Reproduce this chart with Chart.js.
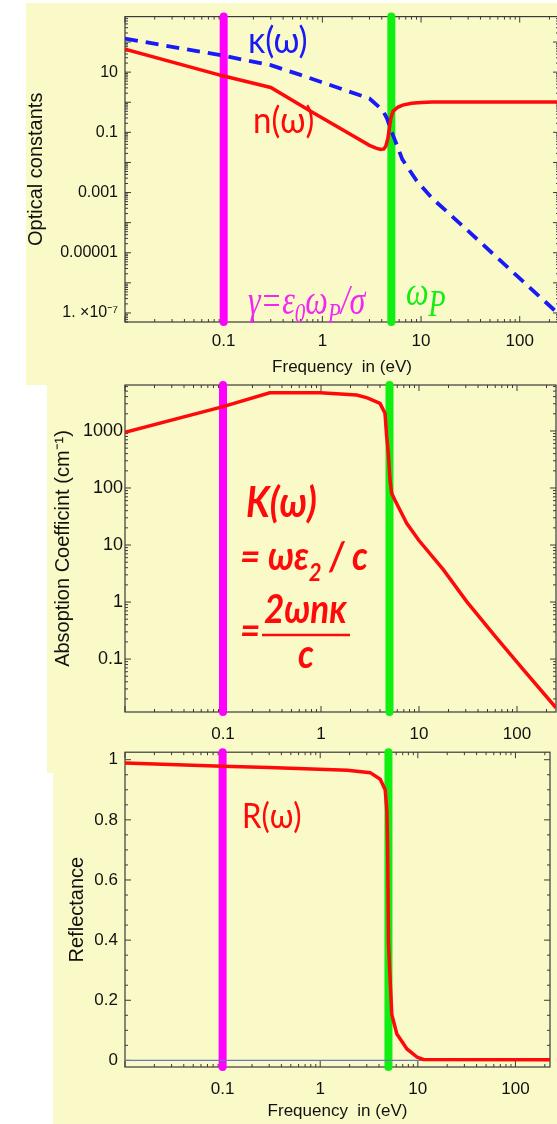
<!DOCTYPE html>
<html>
<head>
<meta charset="utf-8">
<script src="https://cdn.jsdelivr.net/npm/chart.js@4.4.1/dist/chart.umd.min.js"></script>
<style>
  html, body { margin: 0; padding: 0; background: #fff; }
  body { width: 557px; height: 1124px; overflow: hidden; position: relative; }
  .bg { position: absolute; background: #fafac8; }
  canvas { position: absolute; left: 0; }
</style>
</head>
<body>
<div class="bg" style="left:26px;top:3px;width:531px;height:382px"></div>
<div class="bg" style="left:47px;top:385px;width:510px;height:388px"></div>
<div class="bg" style="left:53px;top:773px;width:504px;height:351px"></div>
<canvas id="optical" width="570" height="382" style="top:0"></canvas>
<canvas id="absorb" width="570" height="390" style="top:370px"></canvas>
<canvas id="reflect" width="570" height="389" style="top:735px"></canvas>
<script>
// refractive index n(w)
const nFreq = [0.01, 0.1, 0.3, 0.8, 2, 3, 3.5, 3.9, 4.2, 4.4, 4.6, 4.8, 4.95, 5.2, 5.8, 6.5, 8, 10, 13, 250];
const nVal  = [58, 7.4, 3.1, 0.46, 0.08, 0.037, 0.03, 0.027, 0.028, 0.035, 0.06, 0.15, 0.3, 0.5, 0.68, 0.8, 0.92, 0.98, 1.02, 1.02];

// extinction coefficient kappa(w)
const kappaFreq = [0.01, 0.1, 0.3, 0.63, 1.37, 3, 4.06, 4.5, 4.95, 5.5, 6.46, 9, 13, 30, 100, 250];
const kappaVal  = [130, 35, 17, 7.7, 3.2, 1.33, 0.55, 0.3, 0.12, 0.05, 0.0126, 0.0025, 6.4e-4, 5.3e-5, 1.4e-6, 9e-8];

// absorption coefficient K(w)
const absFreq = [0.01, 0.1, 0.3, 0.98, 2.31, 2.97, 4.0, 4.5, 4.68, 4.86, 5.06, 5.26, 5.69, 7.49, 10, 17.7, 30.7, 60, 116, 250];
const absVal  = [950, 2670, 4690, 4690, 4270, 3800, 3050, 2040, 795, 407, 138, 81, 61, 24, 12, 3.7, 1.02, 0.25, 0.065, 0.014];

// reflectance R(w)
const reflFreq = [0.01, 0.1, 0.3, 1.9, 3.25, 4.12, 4.63, 4.82, 4.9, 5.01, 5.12, 5.41, 6.1, 7.74, 9.8, 11.4, 250];
const reflVal  = [0.989, 0.978, 0.974, 0.965, 0.957, 0.935, 0.90, 0.83, 0.72, 0.39, 0.317, 0.153, 0.0875, 0.038, 0.011, 0.003, 0.002];

// marker frequencies (eV)
const gammaFreq = 0.1;
const plasmaFreq = 5;

// tick labels
const freqTicks = [0.1, 1, 10, 100];
const opticalTicks = [10, 0.1, 0.001, 0.00001, 1e-7];
const opticalTickText = ['10', '0.1', '0.001', '0.00001', '1. \u00d710\u207b\u2077'];
const absTicks = [1000, 100, 10, 1, 0.1];
const reflTicks = [0, 0.2, 0.4, 0.6, 0.8, 1];

const RED = '#ff0a0a', BLUE = '#1a1af5', MAGENTA = '#ff00ff', GREEN = '#11ee11';
const SANS = '"Liberation Sans", Arial, sans-serif';

function pts(xs, ys) {
    return xs.map((x, i) => ({x: x, y: ys[i]}));
}

function labelFor(v, vals, texts, log) {
    const i = vals.findIndex(t => log ? Math.abs(Math.log10(v) - Math.log10(t)) < 1e-6 : Math.abs(v - t) < 1e-9);
    return i < 0 ? '' : texts[i];
}

// tick positions for the inward tick marks
function tickMarks(scale, step, major) {
    const out = [];
    if (scale.type === 'logarithmic') {
        for (let e = Math.floor(Math.log10(scale.min)); e <= Math.ceil(Math.log10(scale.max)); e++) {
            for (let m = 1; m <= 9; m++) {
                const v = m * Math.pow(10, e);
                if (v >= scale.min && v <= scale.max) out.push({v: v, major: m === 1});
            }
        }
    } else {
        for (let v = Math.ceil(scale.min / step) * step; v <= scale.max + 1e-9; v += step) {
            const r = v / major;
            out.push({v: v, major: Math.abs(r - Math.round(r)) < 1e-6});
        }
    }
    return out;
}

// frame with ticks pointing into the plot on all four sides
const framePlugin = {
    id: 'frame',
    beforeDatasetsDraw(chart, args, opts) {
        const {ctx, chartArea: a, scales} = chart;
        ctx.save();
        ctx.strokeStyle = '#3a3a3a';
        ctx.lineWidth = 1.2;
        ctx.strokeRect(a.left, a.top, a.right - a.left, a.bottom - a.top);
        ctx.beginPath();
        tickMarks(scales.x).forEach(t => {
            const p = scales.x.getPixelForValue(t.v);
            const len = t.major ? 6 : 3;
            ctx.moveTo(p, a.bottom); ctx.lineTo(p, a.bottom - len);
            ctx.moveTo(p, a.top); ctx.lineTo(p, a.top + len);
        });
        tickMarks(scales.y, opts.yStep, opts.yMajor).forEach(t => {
            const p = scales.y.getPixelForValue(t.v);
            const len = t.major ? 6 : 3;
            ctx.moveTo(a.left, p); ctx.lineTo(a.left + len, p);
            ctx.moveTo(a.right, p); ctx.lineTo(a.right - len, p);
        });
        ctx.lineWidth = 1;
        ctx.stroke();
        ctx.restore();
    }
};

function txt(ctx, s, x, y, font, color, sy) {
    ctx.save();
    ctx.font = font;
    ctx.fillStyle = color;
    ctx.textBaseline = 'alphabetic';
    ctx.translate(x, y);
    ctx.scale(1, sy || 1);
    ctx.fillText(s, 0, 0);
    const w = ctx.measureText(s).width;
    ctx.restore();
    return x + w;
}

function freqAxis(max, pad, height, withTitle, titlePad) {
    return {
        type: 'logarithmic', min: 0.01, max: max,
        grid: {display: false, drawTicks: false},
        border: {display: false},
        ticks: {
            autoSkip: false, maxRotation: 0, padding: pad, color: '#111',
            font: {family: SANS, size: 17},
            callback: v => labelFor(v, freqTicks, freqTicks.map(String), true)
        },
        title: {
            display: withTitle, text: 'Frequency  in (eV)', color: '#111',
            font: {family: SANS, size: 17}, padding: {top: 0, bottom: titlePad || 0}
        },
        afterFit: s => { s.height = height; }
    };
}

function valueAxis(type, min, max, vals, texts, font, pad, title, titleX, step) {
    return {
        type: type, min: min, max: max,
        grid: {display: false, drawTicks: false},
        border: {display: false},
        ticks: {
            autoSkip: false, includeBounds: false, padding: pad, color: '#111', font: font, stepSize: step,
            callback: v => labelFor(v, vals, texts, type === 'logarithmic')
        },
        title: {
            display: true, text: title, color: '#111',
            font: {family: SANS, size: 20}, padding: {top: titleX - 12, bottom: 0}
        },
        afterFit: s => { s.width = 125; }
    };
}

function marker(f, color, lo, hi) {
    return {
        data: [{x: f, y: lo}, {x: f, y: hi}],
        borderColor: color, borderWidth: 8, borderCapStyle: 'round', clip: 6, pointRadius: 0
    };
}

function baseOptions(padding, scales, frameOpts) {
    return {
        responsive: false, animation: false, events: [],
        layout: {padding: padding},
        elements: {point: {radius: 0}, line: {tension: 0}},
        plugins: {legend: {display: false}, tooltip: {enabled: false}, frame: frameOpts || {}},
        scales: scales
    };
}

// optical constants n and kappa
const opticalMin = 5e-8, opticalMax = 700;
new Chart(document.getElementById('optical'), {
    type: 'line',
    data: {
        datasets: [
            {data: pts(nFreq, nVal), borderColor: RED, borderWidth: 3.5},
            {data: pts(kappaFreq, kappaVal), borderColor: BLUE, borderWidth: 3.8, borderDash: [13, 8]},
            marker(plasmaFreq, GREEN, opticalMin, opticalMax),
            marker(gammaFreq, MAGENTA, opticalMin, opticalMax)
        ]
    },
    options: baseOptions({left: 0, top: 12, right: 11, bottom: 0}, {
        x: freqAxis(250, 9.5, 60, true, 4),
        y: valueAxis('logarithmic', opticalMin, opticalMax, opticalTicks, opticalTickText,
            {family: SANS, size: 16}, 7, 'Optical constants', 36)
    }),
    plugins: [framePlugin, {
        id: 'opticalNotes',
        afterDatasetsDraw(chart) {
            const ctx = chart.ctx;
            txt(ctx, '\u03ba(\u03c9)', 248, 53, '34px Lato', BLUE, 1.1);
            txt(ctx, 'n(\u03c9)', 253, 133, '33px Lato', RED, 1.1);
            const serif = s => 'italic ' + s + 'px "Liberation Serif", serif';
            const mag = '#f028f0';
            let x = txt(ctx, '\u03b3=\u03b5', 248, 314, serif(32), mag, 1.3);
            x = txt(ctx, '0', x, 322, serif(21), mag, 1.3);
            x = txt(ctx, '\u03c9', x, 314, serif(32), mag, 1.3);
            x = txt(ctx, 'P', x, 322, serif(21), mag, 1.3);
            txt(ctx, '/\u03c3', x, 314, serif(32), mag, 1.3);
            x = txt(ctx, '\u03c9', 406, 305, serif(32), GREEN, 1.25);
            txt(ctx, 'P', x, 316, serif(28), GREEN, 1.35);
        }
    }]
});

// absorption coefficient
const absMin = 0.0118, absMax = 6400;
new Chart(document.getElementById('absorb'), {
    type: 'line',
    data: {
        datasets: [
            {data: pts(absFreq, absVal), borderColor: RED, borderWidth: 3.5},
            marker(plasmaFreq, GREEN, absMin, absMax),
            marker(gammaFreq, MAGENTA, absMin, absMax)
        ]
    },
    options: baseOptions({left: 0, top: 15, right: 14, bottom: 0}, {
        x: freqAxis(250, 12, 48, false),
        y: valueAxis('logarithmic', absMin, absMax, absTicks, absTicks.map(String),
            {family: SANS, size: 18}, 2, 'Absoption Coefficint (cm\u207b\u00b9)', 63)
    }),
    plugins: [framePlugin, {
        id: 'absNotes',
        afterDatasetsDraw(chart) {
            const ctx = chart.ctx;
            const f = s => 'italic bold ' + s + 'px Lato';
            txt(ctx, 'K(\u03c9)', 246, 147, f(37), RED, 1.12);
            let x = txt(ctx, '= \u03c9\u03b5', 240, 200, f(35), RED, 1.12);
            x = txt(ctx, '2', x, 211, f(22), RED, 1.12);
            txt(ctx, ' / c', x, 200, f(35), RED, 1.12);
            txt(ctx, '=', 240, 274, f(35), RED, 1.12);
            txt(ctx, '2\u03c9n\u03ba', 264, 253, f(35), RED, 1.12);
            ctx.save();
            ctx.strokeStyle = RED;
            ctx.lineWidth = 2.5;
            ctx.beginPath();
            ctx.moveTo(262, 265); ctx.lineTo(350, 265);
            ctx.stroke();
            ctx.restore();
            txt(ctx, 'c', 298, 298, f(35), RED, 1.12);
        }
    }]
});

// reflectance
const reflMin = -0.022, reflMax = 1.025;
new Chart(document.getElementById('reflect'), {
    type: 'line',
    data: {
        datasets: [
            {data: pts(reflFreq, reflVal), borderColor: RED, borderWidth: 3.5},
            {data: pts([0.01, 250], [0, 0]), borderColor: '#6c78b4', borderWidth: 1.2},
            marker(plasmaFreq, GREEN, reflMin, reflMax),
            marker(gammaFreq, MAGENTA, reflMin, reflMax)
        ]
    },
    options: baseOptions({left: 0, top: 12, right: 20, bottom: 0}, {
        x: freqAxis(226, 12.5, 57, true, 2),
        y: valueAxis('linear', reflMin, reflMax, reflTicks, reflTicks.map(String),
            {family: SANS, size: 17}, 7, 'Reflectance', 77, 0.2)
    }, {yStep: 0.05, yMajor: 0.2}),
    plugins: [framePlugin, {
        id: 'reflNotes',
        afterDatasetsDraw(chart) {
            txt(chart.ctx, 'R(\u03c9)', 242, 93, '31px Lato', RED, 1.12);
        }
    }]
});
</script>
</body>
</html>
